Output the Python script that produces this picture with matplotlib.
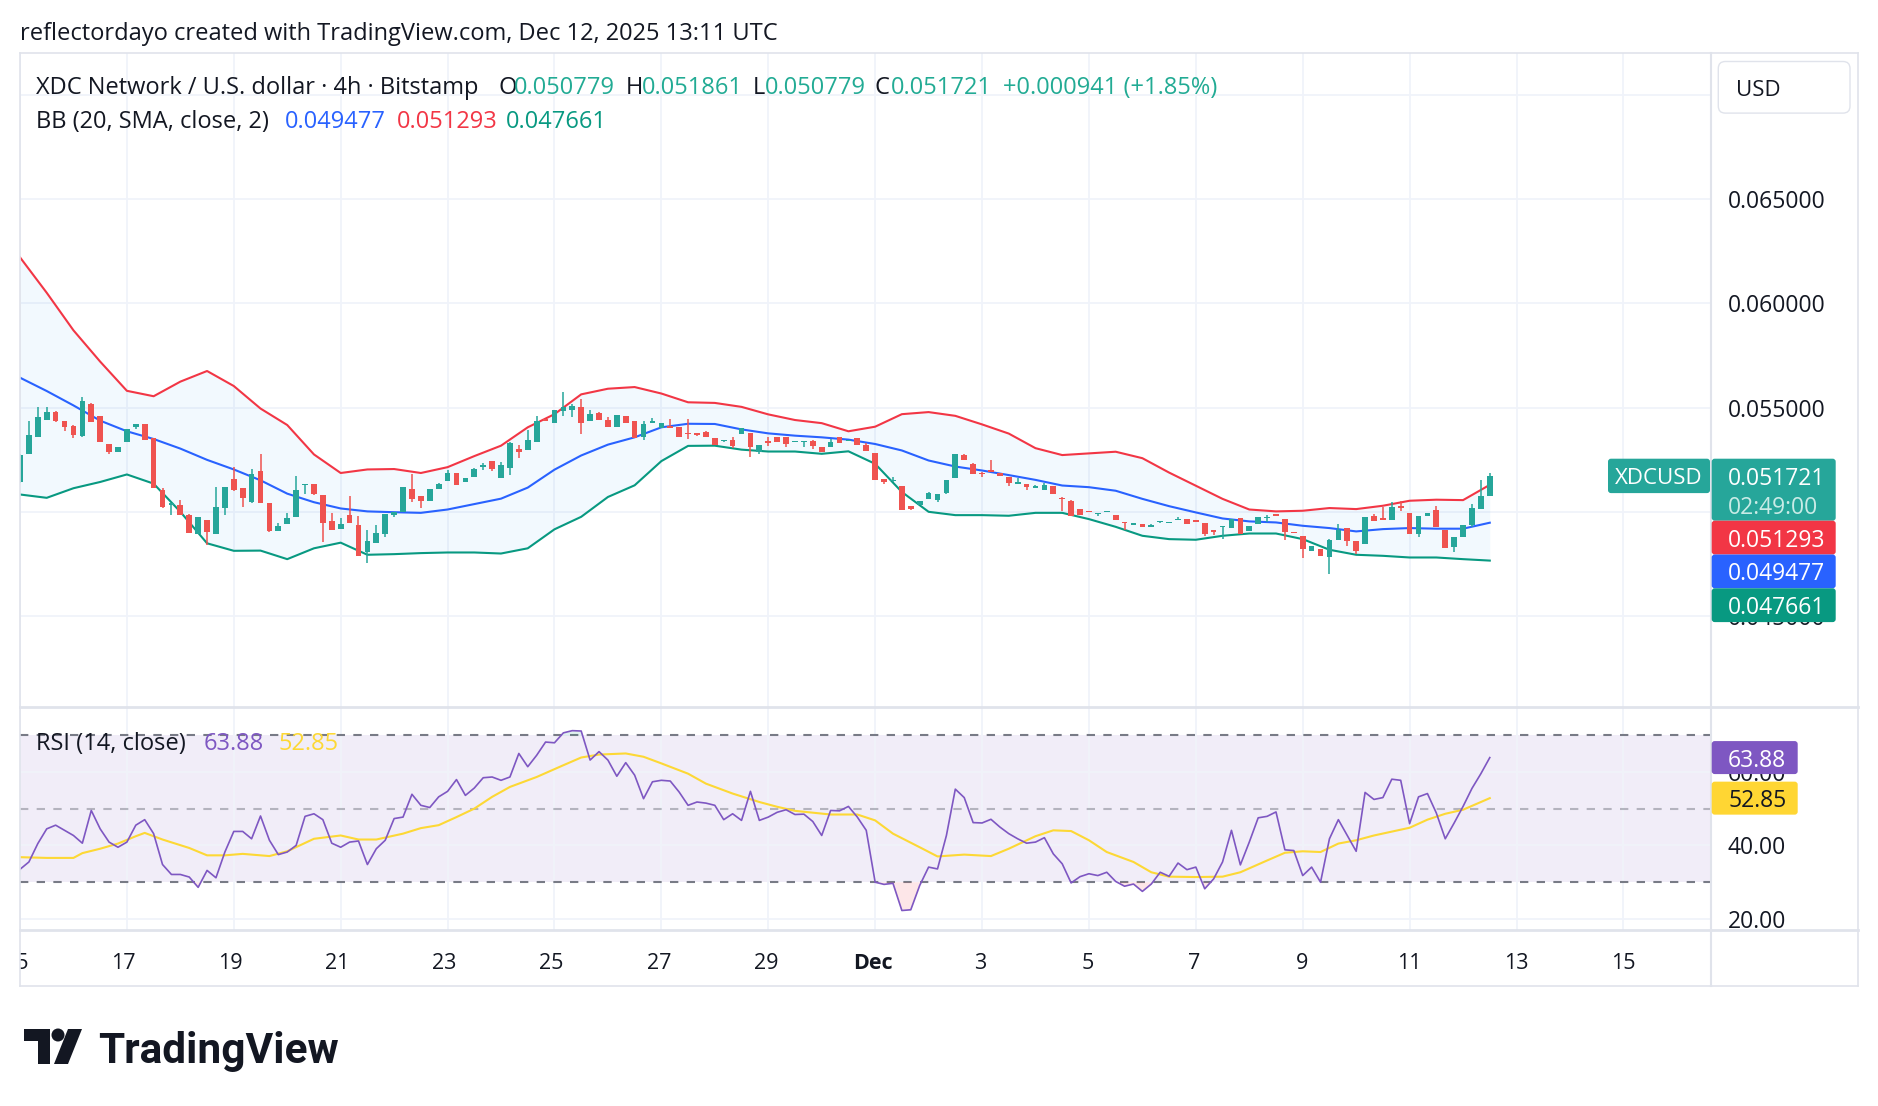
import numpy as np
import matplotlib
matplotlib.use("Agg")
import matplotlib.pyplot as plt
import matplotlib.transforms as mtransforms
from matplotlib.patches import FancyBboxPatch, Circle, Polygon

plt.rcParams["font.family"] = ["Open Sans", "DejaVu Sans"]

# ---- XDCUSD 4h candles, Nov 15 00:00 -> Dec 12 12:00 (x = candle index)
opens = [
    0.05143, 0.05278, 0.05360, 0.05440, 0.05479, 0.05437, 0.05413, 0.05365, 0.05519, 0.05460,
    0.05325, 0.05286, 0.05333, 0.05405, 0.05421, 0.05354, 0.05106, 0.05035, 0.05032, 0.04984,
    0.04894, 0.04963, 0.04895, 0.05016, 0.05159, 0.05114, 0.05048, 0.05194, 0.05043, 0.04910,
    0.04941, 0.04973, 0.05129, 0.05135, 0.05079, 0.04957, 0.04919, 0.04984, 0.04937, 0.04805,
    0.04852, 0.04892, 0.04983, 0.05000, 0.05111, 0.05075, 0.05052, 0.05108, 0.05148, 0.05187,
    0.05141, 0.05167, 0.05217, 0.05244, 0.05163, 0.05211, 0.05302, 0.05298, 0.05333, 0.05441,
    0.05424, 0.05481, 0.05487, 0.05503, 0.05433, 0.05473, 0.05440, 0.05405, 0.05459, 0.05437,
    0.05357, 0.05425, 0.05402, 0.05413, 0.05405, 0.05376, 0.05376, 0.05381, 0.05354, 0.05338,
    0.05344, 0.05373, 0.05379, 0.05286, 0.05336, 0.05360, 0.05360, 0.05337, 0.05336, 0.05338,
    0.05310, 0.05311, 0.05360, 0.05342, 0.05354, 0.05319, 0.05284, 0.05159, 0.05148, 0.05122,
    0.05027, 0.05032, 0.05059, 0.05056, 0.05092, 0.05162, 0.05270, 0.05230, 0.05185, 0.05198,
    0.05186, 0.05167, 0.05137, 0.05132, 0.05117, 0.05103, 0.05124, 0.05067, 0.05052, 0.05014,
    0.05005, 0.04990, 0.04998, 0.04986, 0.04951, 0.04935, 0.04941, 0.04925, 0.04952, 0.04948,
    0.04963, 0.04967, 0.04957, 0.04946, 0.04914, 0.04929, 0.04922, 0.04970, 0.04908, 0.04941,
    0.04971, 0.04986, 0.04965, 0.04903, 0.04886, 0.04811, 0.04822, 0.04783, 0.04867, 0.04922,
    0.04859, 0.04844, 0.04981, 0.04970, 0.04963, 0.05029, 0.04992, 0.04892, 0.04978, 0.05008,
    0.04913, 0.04833, 0.04881, 0.04938, 0.05014, 0.050779,
]
highs = [
    0.05275, 0.05437, 0.05503, 0.05503, 0.05485, 0.05437, 0.05415, 0.05551, 0.05522, 0.05460,
    0.05325, 0.05313, 0.05397, 0.05421, 0.05421, 0.05354, 0.05114, 0.05040, 0.05056, 0.04990,
    0.04973, 0.04963, 0.05119, 0.05119, 0.05214, 0.05114, 0.05206, 0.05278, 0.05043, 0.04944,
    0.04995, 0.05170, 0.05132, 0.05135, 0.05079, 0.04995, 0.04968, 0.05075, 0.04979, 0.04913,
    0.04937, 0.04989, 0.05000, 0.05119, 0.05179, 0.05075, 0.05111, 0.05140, 0.05202, 0.05187,
    0.05160, 0.05211, 0.05233, 0.05244, 0.05238, 0.05336, 0.05318, 0.05392, 0.05460, 0.05445,
    0.05487, 0.05575, 0.05516, 0.05540, 0.05487, 0.05479, 0.05456, 0.05465, 0.05459, 0.05437,
    0.05433, 0.05449, 0.05425, 0.05444, 0.05405, 0.05444, 0.05378, 0.05386, 0.05354, 0.05345,
    0.05360, 0.05400, 0.05379, 0.05322, 0.05357, 0.05360, 0.05360, 0.05340, 0.05340, 0.05345,
    0.05310, 0.05350, 0.05360, 0.05345, 0.05354, 0.05332, 0.05284, 0.05159, 0.05165, 0.05122,
    0.05027, 0.05052, 0.05095, 0.05083, 0.05151, 0.05279, 0.05275, 0.05236, 0.05190, 0.05246,
    0.05186, 0.05167, 0.05160, 0.05132, 0.05129, 0.05140, 0.05124, 0.05071, 0.05056, 0.05014,
    0.05005, 0.04993, 0.05005, 0.04986, 0.04951, 0.04946, 0.04941, 0.04941, 0.04954, 0.04950,
    0.04976, 0.04967, 0.04957, 0.04946, 0.04914, 0.04932, 0.04965, 0.04970, 0.04933, 0.04973,
    0.04984, 0.04986, 0.04965, 0.04903, 0.04886, 0.04838, 0.04822, 0.04870, 0.04941, 0.04922,
    0.04859, 0.04976, 0.04989, 0.05024, 0.05049, 0.05052, 0.04992, 0.04981, 0.04994, 0.05029,
    0.04913, 0.04881, 0.04937, 0.05037, 0.05151, 0.051861,
]
lows = [
    0.05140, 0.05278, 0.05360, 0.05440, 0.05430, 0.05386, 0.05354, 0.05360, 0.05429, 0.05333,
    0.05278, 0.05286, 0.05333, 0.05395, 0.05344, 0.05114, 0.05016, 0.04984, 0.04984, 0.04900,
    0.04894, 0.04841, 0.04895, 0.04984, 0.05100, 0.05024, 0.05043, 0.05040, 0.04905, 0.04910,
    0.04941, 0.04973, 0.05083, 0.05079, 0.04857, 0.04913, 0.04919, 0.04944, 0.04790, 0.04754,
    0.04849, 0.04881, 0.04973, 0.05000, 0.05048, 0.05016, 0.05052, 0.05108, 0.05148, 0.05129,
    0.05141, 0.05167, 0.05202, 0.05195, 0.05163, 0.05175, 0.05259, 0.05298, 0.05333, 0.05436,
    0.05424, 0.05460, 0.05456, 0.05373, 0.05433, 0.05441, 0.05405, 0.05405, 0.05425, 0.05352,
    0.05344, 0.05425, 0.05402, 0.05402, 0.05357, 0.05349, 0.05365, 0.05360, 0.05322, 0.05335,
    0.05306, 0.05373, 0.05265, 0.05278, 0.05314, 0.05337, 0.05313, 0.05337, 0.05310, 0.05300,
    0.05287, 0.05311, 0.05330, 0.05342, 0.05322, 0.05290, 0.05154, 0.05132, 0.05143, 0.05011,
    0.05011, 0.05032, 0.05059, 0.05048, 0.05087, 0.05162, 0.05249, 0.05179, 0.05168, 0.05194,
    0.05170, 0.05124, 0.05132, 0.05103, 0.05117, 0.05103, 0.05087, 0.05002, 0.04981, 0.04984,
    0.04998, 0.04981, 0.04998, 0.04963, 0.04913, 0.04935, 0.04925, 0.04925, 0.04944, 0.04948,
    0.04963, 0.04941, 0.04954, 0.04883, 0.04889, 0.04870, 0.04922, 0.04894, 0.04908, 0.04941,
    0.04952, 0.04983, 0.04865, 0.04900, 0.04779, 0.04811, 0.04787, 0.04703, 0.04867, 0.04838,
    0.04798, 0.04844, 0.04954, 0.04960, 0.04963, 0.05005, 0.04892, 0.04881, 0.04978, 0.04925,
    0.04825, 0.04806, 0.04881, 0.04925, 0.05014, 0.050779,
]
closes = [
    0.05270, 0.05370, 0.05456, 0.05479, 0.05433, 0.05408, 0.05367, 0.05532, 0.05429, 0.05333,
    0.05286, 0.05313, 0.05397, 0.05421, 0.05344, 0.05114, 0.05024, 0.05040, 0.04984, 0.04900,
    0.04973, 0.04905, 0.05021, 0.05119, 0.05106, 0.05068, 0.05183, 0.05043, 0.04910, 0.04932,
    0.04968, 0.05106, 0.05132, 0.05087, 0.04948, 0.04913, 0.04941, 0.04944, 0.04790, 0.04860,
    0.04897, 0.04989, 0.05000, 0.05119, 0.05063, 0.05052, 0.05111, 0.05132, 0.05187, 0.05129,
    0.05160, 0.05206, 0.05224, 0.05203, 0.05222, 0.05330, 0.05286, 0.05344, 0.05437, 0.05438,
    0.05487, 0.05503, 0.05508, 0.05424, 0.05471, 0.05441, 0.05405, 0.05465, 0.05425, 0.05352,
    0.05421, 0.05433, 0.05425, 0.05402, 0.05357, 0.05373, 0.05367, 0.05360, 0.05322, 0.05343,
    0.05317, 0.05400, 0.05313, 0.05322, 0.05333, 0.05337, 0.05325, 0.05340, 0.05340, 0.05314,
    0.05287, 0.05337, 0.05330, 0.05345, 0.05322, 0.05290, 0.05154, 0.05143, 0.05150, 0.05011,
    0.05014, 0.05052, 0.05092, 0.05083, 0.05151, 0.05279, 0.05249, 0.05179, 0.05181, 0.05194,
    0.05170, 0.05140, 0.05140, 0.05119, 0.05120, 0.05129, 0.05087, 0.05063, 0.04981, 0.04984,
    0.04998, 0.04993, 0.05002, 0.04963, 0.04948, 0.04946, 0.04925, 0.04938, 0.04954, 0.04950,
    0.04965, 0.04941, 0.04954, 0.04894, 0.04905, 0.04932, 0.04965, 0.04894, 0.04933, 0.04973,
    0.04973, 0.04983, 0.04902, 0.04900, 0.04822, 0.04838, 0.04787, 0.04867, 0.04913, 0.04859,
    0.04814, 0.04976, 0.04954, 0.04960, 0.05024, 0.05018, 0.04892, 0.04981, 0.04994, 0.04925,
    0.04825, 0.04881, 0.04937, 0.05018, 0.05078, 0.051721,
]

# ---- Bollinger Bands (20, 2), read every 3rd candle
bb_k = list(range(0, 166, 3))
bb_upper = [
    0.0622, 0.0605, 0.0587, 0.0572, 0.0558, 0.05554, 0.05624, 0.05675, 0.05603, 0.05495,
    0.05416, 0.05275, 0.05186, 0.05203, 0.05205, 0.05186, 0.05214, 0.05267, 0.05317, 0.05405,
    0.05468, 0.05563, 0.05590, 0.05598, 0.05567, 0.05525, 0.05522, 0.05503, 0.05467, 0.05440,
    0.05425, 0.05386, 0.05408, 0.05468, 0.05478, 0.05460, 0.05419, 0.05375, 0.05305, 0.05272,
    0.05280, 0.05288, 0.05257, 0.05188, 0.05125, 0.05062, 0.05011, 0.05002, 0.05005, 0.05018,
    0.05013, 0.05029, 0.05053, 0.05058, 0.05056, 0.051293,
]
bb_basis = [
    0.05643, 0.05579, 0.05510, 0.05437, 0.05386, 0.05349, 0.05303, 0.05249, 0.05203, 0.05151,
    0.05087, 0.05046, 0.05016, 0.05002, 0.04998, 0.04995, 0.05011, 0.05037, 0.05063, 0.05116,
    0.05202, 0.05270, 0.05322, 0.05357, 0.05405, 0.05422, 0.05421, 0.05395, 0.05376, 0.05365,
    0.05357, 0.05346, 0.05325, 0.05294, 0.05246, 0.05217, 0.05198, 0.05176, 0.05153, 0.05126,
    0.05118, 0.05101, 0.05062, 0.05027, 0.04997, 0.04968, 0.04954, 0.04949, 0.04933, 0.04922,
    0.04906, 0.04917, 0.04922, 0.04919, 0.04919, 0.049477,
]
bb_lower = [
    0.05083, 0.05067, 0.05113, 0.05143, 0.05179, 0.05135, 0.05000, 0.04849, 0.04813, 0.04814,
    0.04773, 0.04825, 0.04852, 0.04794, 0.04797, 0.04802, 0.04805, 0.04805, 0.04800, 0.04825,
    0.04916, 0.04976, 0.05071, 0.05127, 0.05243, 0.05316, 0.05317, 0.05298, 0.05289, 0.05289,
    0.05278, 0.05290, 0.05230, 0.05095, 0.05000, 0.04984, 0.04984, 0.04981, 0.04995, 0.04995,
    0.04965, 0.04928, 0.04885, 0.04869, 0.04866, 0.04885, 0.04896, 0.04896, 0.04869, 0.04818,
    0.04794, 0.04789, 0.04781, 0.04781, 0.04773, 0.047661,
]

# ---- RSI (14) per candle and its moving average (read at turning points)
rsi = [
    33.5, 35.5, 40.5, 44.5, 45.5, 44.1, 42.7, 40.6, 49.5, 44.5,
    40.9, 39.5, 40.9, 45.5, 47.0, 43.2, 34.8, 32.1, 32.1, 31.4,
    28.6, 33.2, 31.2, 38.2, 43.8, 43.8, 41.8, 48.0, 41.4, 37.5,
    38.2, 40.0, 47.9, 48.6, 47.0, 40.6, 39.5, 40.9, 41.2, 34.8,
    39.1, 41.4, 47.3, 47.7, 53.9, 50.9, 50.3, 53.2, 54.7, 57.9,
    53.6, 55.6, 58.4, 58.6, 57.7, 58.6, 65.0, 61.4, 64.5, 68.1,
    67.9, 70.6, 71.2, 71.1, 63.2, 65.5, 63.2, 58.8, 62.5, 59.1,
    52.7, 57.3, 57.7, 57.5, 54.5, 50.9, 51.8, 51.5, 50.9, 47.0,
    48.6, 46.8, 54.7, 46.8, 47.7, 49.0, 49.7, 48.4, 48.5, 46.5,
    42.7, 49.5, 49.4, 50.6, 47.7, 44.1, 30.0, 29.4, 29.7, 22.3,
    22.5, 29.1, 34.1, 33.6, 42.7, 55.3, 53.0, 46.2, 46.1, 47.1,
    45.0, 43.2, 41.8, 40.6, 40.9, 42.1, 37.7, 35.0, 29.8, 31.5,
    32.3, 31.8, 32.7, 30.2, 28.9, 29.5, 27.5, 29.5, 32.7, 31.6,
    35.2, 33.4, 34.1, 28.2, 30.9, 35.5, 44.1, 34.7, 40.9, 47.5,
    47.9, 49.1, 38.8, 38.6, 31.8, 34.1, 30.0, 41.8, 47.0, 42.7,
    38.4, 54.4, 52.5, 53.0, 58.0, 57.7, 45.9, 53.2, 54.1, 48.8,
    41.8, 46.1, 50.6, 55.5, 59.5, 63.88,
]
rsi_ma_k = [0, 3, 6, 7, 9, 11, 13, 14, 16, 19, 21, 23, 25, 28, 30, 33, 36, 38, 40, 43,
            45, 47, 49, 51, 53, 55, 58, 61, 63, 65, 68, 70, 72, 75, 77, 80, 83, 85, 87, 91,
            94, 96, 98, 101, 103, 106, 109, 111, 114, 116, 118, 120, 122, 125, 127, 129, 132, 135, 137, 140,
            142, 144, 146, 148, 150, 152, 156, 158, 160, 162, 164, 165]
rsi_ma = [36.8, 36.6, 36.6, 37.9, 39.1, 40.5, 42.5, 43.4, 41.6, 39.3, 37.3, 37.3, 37.7, 37.1, 38.4, 41.8, 42.7, 41.6, 41.6, 43.2,
          44.7, 45.5, 47.7, 50.0, 53.2, 55.9, 58.6, 61.8, 63.9, 64.7, 65.0, 64.1, 62.3, 59.5, 56.8, 54.1, 51.8, 50.5, 49.4, 48.4,
          48.4, 46.8, 43.2, 39.5, 37.0, 37.5, 37.1, 39.1, 42.5, 44.1, 43.9, 41.4, 38.2, 35.5, 32.7, 31.5, 31.4, 31.5, 32.7, 35.9,
          38.0, 38.4, 38.2, 40.5, 41.4, 42.7, 44.8, 47.0, 48.6, 49.7, 51.8, 52.85]

day_labels = ["15", "17", "19", "21", "23", "25", "27", "29", "Dec",
              "3", "5", "7", "9", "11", "13", "15"]
price_ticks = [0.045, 0.050, 0.055, 0.060, 0.065, 0.070]
price_labels_shown = [0.045, 0.055, 0.060, 0.065]   # 0.050 / 0.070 sit under the tags
rsi_ticks = [20, 40, 60]

# ---- colours
UP, DOWN = "#26a69a", "#ef5350"
BB_UP, BB_MID, BB_LO = "#f23645", "#2962ff", "#089981"
RSI_C, RSI_MA_C = "#7e57c2", "#fdd835"
TXT, GRID, BORDER = "#131722", "#f0f3fa", "#e0e3eb"
VAL_GREEN = "#22ab94"

W, H, DPI = 1878, 1106, 100
fig = plt.figure(figsize=(W / DPI, H / DPI), dpi=DPI)
fig.patch.set_facecolor("white")
# pixel coordinates measured from the top-left corner
px = mtransforms.Affine2D().scale(1 / DPI, -1 / DPI).translate(0, H / DPI) + fig.dpi_scale_trans


def rect(x0, y0, x1, y1):
    return [x0 / W, 1 - y1 / H, (x1 - x0) / W, (y1 - y0) / H]


LEFT, RIGHT, SCALE_R = 20, 1710.7, 1857.7
TOP, SEP, RSI_B, BOTTOM = 53.3, 707.3, 930, 985.7
PMIN, PMAX = 0.040628, 0.071980
RMIN, RMAX = 17.0, 77.55
XMIN, XMAX = 0.46, 189.8

ax = fig.add_axes(rect(LEFT, TOP, RIGHT, SEP))
rax = fig.add_axes(rect(LEFT, SEP, RIGHT, RSI_B))
tax = fig.add_axes(rect(LEFT, RSI_B, RIGHT, BOTTOM))

day_ticks = np.arange(len(day_labels)) * 12   # 6 candles a day, label every 2 days
for a in (ax, rax, tax):
    a.set_xlim(XMIN, XMAX)
    for s in a.spines.values():
        s.set_visible(False)
    a.tick_params(length=0, labelleft=False, labelbottom=False)
    a.set_axisbelow(True)

# ---- price pane
ax.set_ylim(PMIN, PMAX)
ax.set_xticks(day_ticks)
ax.set_yticks(price_ticks)
ax.grid(True, color=GRID, lw=1.3)

ax.fill_between(bb_k, bb_upper, bb_lower, color="#2196f3", alpha=0.055, lw=0, zorder=1)
ax.plot(bb_k, bb_upper, color=BB_UP, lw=1.5, zorder=2)
ax.plot(bb_k, bb_basis, color=BB_MID, lw=1.5, zorder=2)
ax.plot(bb_k, bb_lower, color=BB_LO, lw=1.5, zorder=2)

o, hi, lo, c = (np.array(v) for v in (opens, highs, lows, closes))
k = np.arange(len(c))
col = np.where(c >= o, UP, DOWN)
body = np.maximum(np.abs(c - o), 0.00006)
ax.vlines(k, lo, hi, colors=col, lw=1.1, zorder=3)
ax.bar(k, body, bottom=(o + c) / 2 - body / 2, width=0.64, color=col, lw=0, zorder=4)

# ---- RSI pane
rsi_a = np.array(rsi)
rk = np.arange(len(rsi_a))
rax.set_ylim(RMIN, RMAX)
rax.set_xticks(day_ticks)
rax.set_yticks(rsi_ticks)
rax.grid(True, color=GRID, lw=1.3)
rax.axhspan(30, 70, color=RSI_C, alpha=0.1, lw=0, zorder=0.2)
rax.axhline(70, color="#787b86", lw=1.5, ls=(0, (4, 4)), zorder=1)
rax.axhline(50, color="#787b86", lw=1.5, ls=(0, (4, 4)), alpha=0.5, zorder=1)
rax.axhline(30, color="#787b86", lw=1.5, ls=(0, (4, 4)), zorder=1)
rax.fill_between(rk, rsi_a, 30, where=rsi_a < 30, interpolate=True, color=BB_UP, alpha=0.12, lw=0)
rax.fill_between(rk, rsi_a, 70, where=rsi_a > 70, interpolate=True, color=BB_LO, alpha=0.12, lw=0)
rax.plot(rsi_ma_k, rsi_ma, color=RSI_MA_C, lw=1.5, zorder=3)
rax.plot(rk, rsi_a, color=RSI_C, lw=1.2, zorder=4)

# ---- time scale
tax.set_ylim(0, 1)
for t, lab in zip(day_ticks, day_labels):
    tax.text(t, 0.45, lab, ha="center", va="center_baseline", fontsize=15.5, color=TXT,
             fontweight="bold" if lab == "Dec" else "normal", clip_on=True)


# ---- frame lines
def hline(y, x0, x1, lw=1.2, color=BORDER):
    fig.add_artist(plt.Line2D([x0, x1], [y, y], transform=px, color=color, lw=lw, zorder=2))


def vline(x, y0, y1, lw=1.2, color=BORDER):
    fig.add_artist(plt.Line2D([x, x], [y0, y1], transform=px, color=color, lw=lw, zorder=2))


hline(TOP, LEFT, SCALE_R)
hline(SEP, LEFT, SCALE_R, lw=2)
hline(RSI_B, LEFT, SCALE_R, lw=2)
hline(BOTTOM, LEFT, SCALE_R)
vline(LEFT, TOP, BOTTOM)
vline(RIGHT, TOP, BOTTOM, lw=1.5)
vline(SCALE_R, TOP, BOTTOM)


def price_px(v):
    return TOP + (PMAX - v) / (PMAX - PMIN) * (SEP - TOP)


def rsi_px(v):
    return SEP + (RMAX - v) / (RMAX - RMIN) * (RSI_B - SEP)


def txt(x, y, s, color=TXT, size=16, **kw):
    fig.text(x, y, s, transform=px, color=color, fontsize=size, va="center_baseline", **kw)


def box(x0, y0, x1, y1, color, zorder=6, ec="none", r=3):
    fig.add_artist(FancyBboxPatch((x0, y0), x1 - x0, y1 - y0, boxstyle=f"round,pad=0,rounding_size={r}",
                                  transform=px, fc=color, ec=ec, lw=1, zorder=zorder))


# price scale labels
for v in price_labels_shown:
    txt(1728, price_px(v), f"{v:.6f}", size=16.5, zorder=5)
for v in [60, 40, 20]:
    txt(1728, rsi_px(v), f"{v:.2f}", size=16.5, zorder=5)

# last price / BB value tags on the scale
yc = price_px(closes[-1])
box(1711.7, yc - 17.2, 1835.7, yc + 44.8, UP)
txt(1728, yc, f"{closes[-1]:.6f}", color="white", size=16.5, zorder=7)
txt(1728, yc + 29.5, "02:49:00", color="#c9ebe6", size=16.5, zorder=7)
box(1608, yc - 17.2, 1710, yc + 17.2, UP)
txt(1659, yc, "XDCUSD", color="white", size=16, ha="center", zorder=7)
y0 = yc + 44.8
for val, colr in ((bb_upper[-1], BB_UP), (bb_basis[-1], BB_MID), (bb_lower[-1], BB_LO)):
    box(1711.7, y0, 1835.7, y0 + 33.8, colr)
    txt(1728, y0 + 16.9, f"{val:.6f}", color="white", size=16.5, zorder=7)
    y0 += 33.8

for val, colr, tc in ((rsi[-1], RSI_C, "white"), (rsi_ma[-1], "#ffd633", TXT)):
    yv = rsi_px(val)
    box(1711.7, yv - 16.5, 1797.7, yv + 16.5, colr)
    txt(1728, yv, f"{val:.2f}", color=tc, size=16.5, zorder=7)

box(1718.3, 61.5, 1850, 113.1, "white", zorder=8, ec=BORDER, r=7)
txt(1736, 88, "USD", size=16, zorder=9)

# ---- legends
txt(20, 31, "reflectordayo created with TradingView.com, Dec 12, 2025 13:11 UTC", size=17)
legend1 = [("XDC Network / U.S. dollar · 4h · Bitstamp", 36, TXT),
           ("O", 498, TXT), (f"{opens[-1]:.6f}", 514, VAL_GREEN),
           ("H", 626, TXT), (f"{highs[-1]:.6f}", 642, VAL_GREEN),
           ("L", 753, TXT), (f"{lows[-1]:.6f}", 765, VAL_GREEN),
           ("C", 875, TXT), (f"{closes[-1]:.6f}", 891, VAL_GREEN),
           ("+0.000941 (+1.85%)", 1003, VAL_GREEN)]
for s, x, colr in legend1:
    txt(x, 85, s, color=colr, size=17)
legend2 = [("BB (20, SMA, close, 2)", 36, TXT), (f"{bb_basis[-1]:.6f}", 285, BB_MID),
           (f"{bb_upper[-1]:.6f}", 397, BB_UP), (f"{bb_lower[-1]:.6f}", 506, BB_LO)]
for s, x, colr in legend2:
    txt(x, 119, s, color=colr, size=17)
legend3 = [("RSI (14, close)", 36, TXT), (f"{rsi[-1]:.2f}", 204, RSI_C), (f"{rsi_ma[-1]:.2f}", 278, RSI_MA_C)]
for s, x, colr in legend3:
    txt(x, 741, s, color=colr, size=17)

# ---- TradingView logo
logo = [Polygon([(24, 1029), (50, 1029), (50, 1064), (38, 1064), (38, 1041), (24, 1041)], closed=True),
        Circle((58, 1035), 6.5),
        Polygon([(68, 1029), (82, 1029), (68, 1064), (54, 1064)], closed=True)]
for p in logo:
    p.set_transform(px)
    p.set_facecolor(TXT)
    p.set_edgecolor("none")
    fig.add_artist(p)
fig.text(98, 1047, "TradingView", transform=px, color=TXT, fontsize=30.5, fontweight="bold",
         va="center_baseline", family=["Roboto", "DejaVu Sans"])

fig.savefig("out.png", dpi=DPI, facecolor="white")
